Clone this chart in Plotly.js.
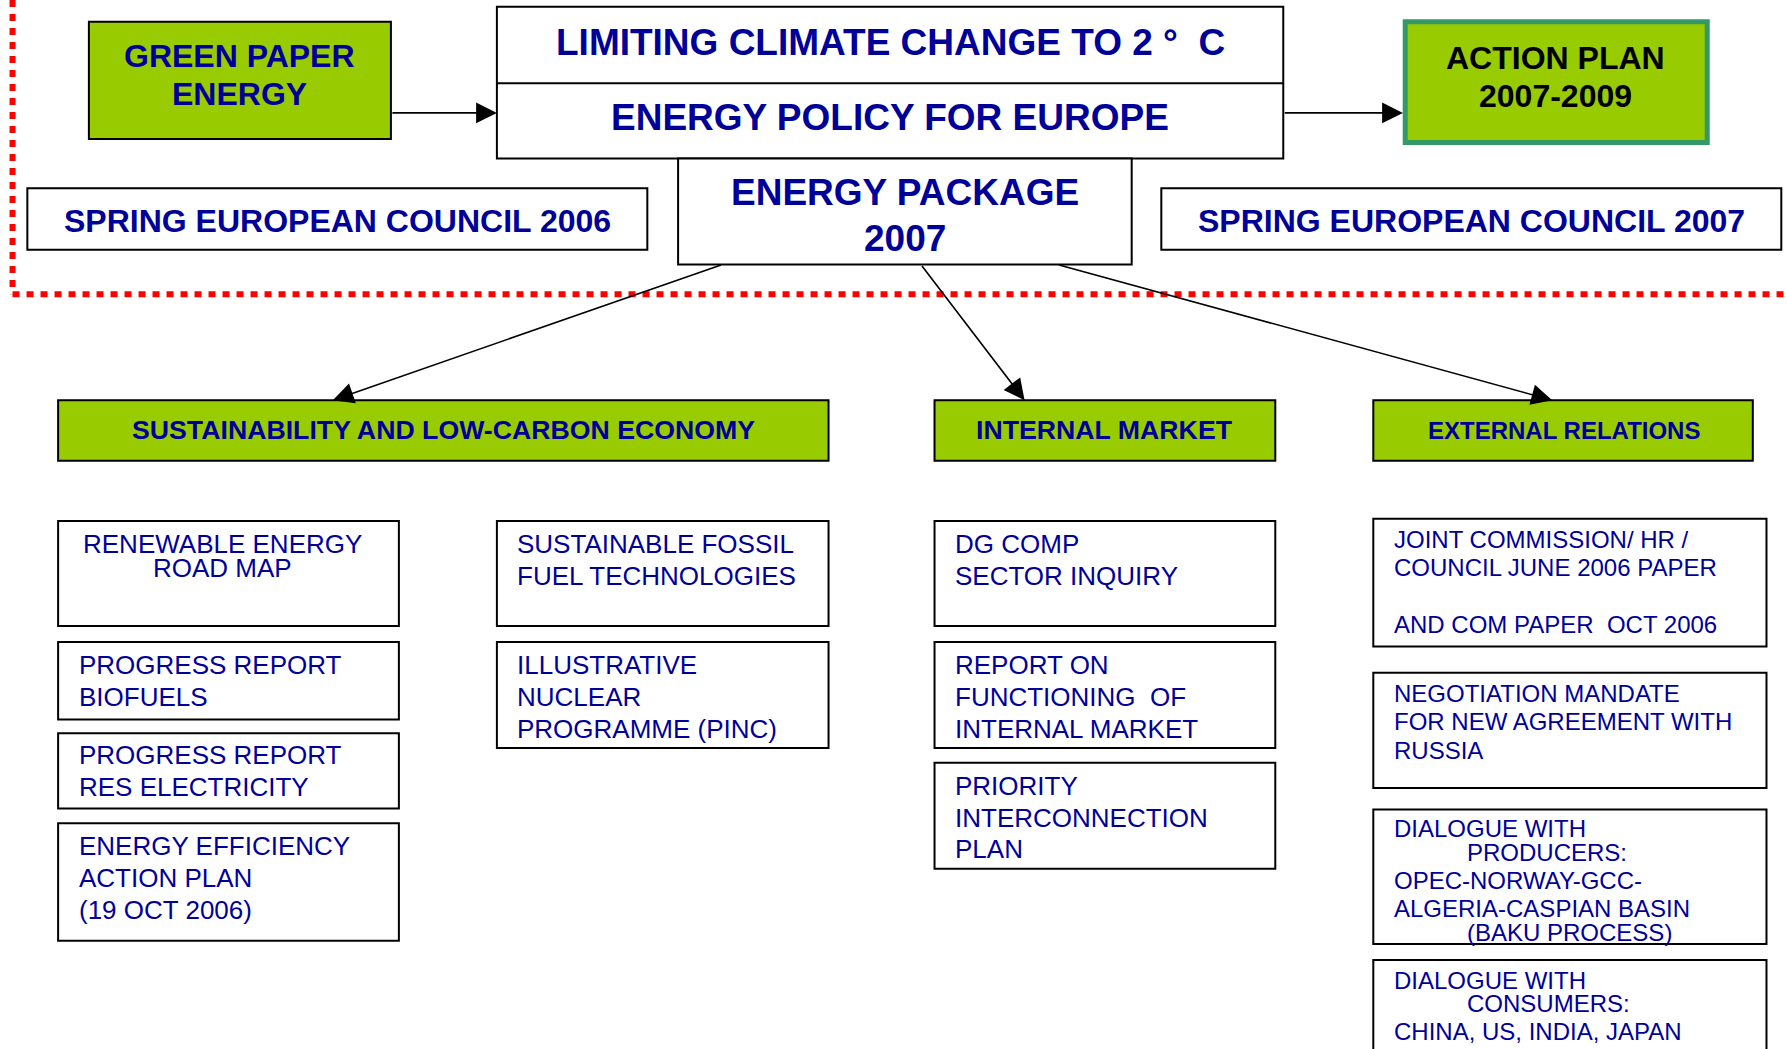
<!DOCTYPE html>
<html><head><meta charset="utf-8">
<script src="https://cdn.plot.ly/plotly-3.0.1.min.js"></script>
<style>html,body{margin:0;padding:0;background:#fff;overflow:hidden}</style>
</head><body><div id="chart" style="width:1787px;height:1049px"></div>
<script>
// ---------- texts (data) ----------
const headerTitle = ["LIMITING CLIMATE CHANGE TO 2 °  C", "ENERGY POLICY FOR EUROPE"];
const greenPaper = ["GREEN PAPER", "ENERGY"];
const actionPlan = ["ACTION PLAN", "2007-2009"];
const energyPackage = ["ENERGY PACKAGE", "2007"];
const councils = ["SPRING EUROPEAN COUNCIL 2006", "SPRING EUROPEAN COUNCIL 2007"];
const pillars = ["SUSTAINABILITY AND LOW-CARBON ECONOMY", "INTERNAL MARKET", "EXTERNAL RELATIONS"];
const sustainabilityItems = [["RENEWABLE ENERGY", "ROAD MAP"], ["PROGRESS REPORT", "BIOFUELS"], ["PROGRESS REPORT", "RES ELECTRICITY"], ["ENERGY EFFICIENCY", "ACTION PLAN", "(19 OCT 2006)"]];
const fossilNuclearItems = [["SUSTAINABLE FOSSIL", "FUEL TECHNOLOGIES"], ["ILLUSTRATIVE", "NUCLEAR", "PROGRAMME (PINC)"]];
const marketItems = [["DG COMP", "SECTOR INQUIRY"], ["REPORT ON", "FUNCTIONING  OF", "INTERNAL MARKET"], ["PRIORITY", "INTERCONNECTION", "PLAN"]];
const externalItems = [["JOINT COMMISSION/ HR /", "COUNCIL JUNE 2006 PAPER", "", "AND COM PAPER  OCT 2006"], ["NEGOTIATION MANDATE", "FOR NEW AGREEMENT WITH", "RUSSIA"], ["DIALOGUE WITH", "PRODUCERS:", "OPEC-NORWAY-GCC-", "ALGERIA-CASPIAN BASIN", "(BAKU PROCESS)"], ["DIALOGUE WITH", "CONSUMERS:", "CHINA, US, INDIA, JAPAN"]];

// ---------- geometry & styles (diagram space 1568 x 920) ----------
const FONT = "Liberation Sans, Arial, Helvetica, sans-serif";
const NAVY = "#000099";
const GREEN = "#99CC00";
const shapes = [];
const annotations = [];

function rect(x0, y0, x1, y1, fill, color, width) {
  shapes.push({type: "rect", xref: "x", yref: "y", x0, y0, x1, y1,
    fillcolor: fill, line: {color: color || "#000", width: width || 2}, layer: "below"});
}
function line(x0, y0, x1, y1, color, width, dash) {
  shapes.push({type: "line", xref: "x", yref: "y", x0, y0, x1, y1,
    line: {color, width, dash: dash || "solid"}});
}
function text(t, x, y, size, opts) {
  opts = opts || {};
  annotations.push({text: t, x, y, xref: "x", yref: "y", showarrow: false,
    xanchor: opts.anchor || "center", yanchor: "middle", borderpad: 0,
    font: {family: FONT, size, color: opts.color || NAVY, weight: opts.bold ? 700 : 400}});
}
function arrow(x0, y0, x1, y1) {
  annotations.push({text: "", x: x1, y: y1, ax: x0, ay: y0, xref: "x", yref: "y",
    axref: "x", ayref: "y", showarrow: true, arrowhead: 2, arrowsize: 2.6,
    arrowwidth: 1.6, arrowcolor: "#000", standoff: 0});
}

// red dotted frame
line(11, 0, 11, 258, "#FF0000", 6, "7px,7px");
line(11, 258, 1568, 258, "#FF0000", 6, "7px,7px");

// top row
rect(78, 19, 343, 122, GREEN, "#000", 2);
text(greenPaper[0], 210, 49, 32, {bold: true});
text(greenPaper[1], 210, 82, 32, {bold: true});

rect(436, 6, 1126, 139, "#fff", "#000", 2);
line(436, 73, 1126, 73, "#000", 2);
text(headerTitle[0], 781, 37, 37, {bold: true});
text(headerTitle[1], 781, 103, 37, {bold: true});

rect(1233, 19, 1498, 125, GREEN, "#339966", 5);
text(actionPlan[0], 1365, 51, 32, {bold: true, color: "#000"});
text(actionPlan[1], 1365, 84, 32, {bold: true, color: "#000"});

rect(24, 165, 568, 219, "#fff", "#000", 2);
text(councils[0], 296, 194, 32, {bold: true});
rect(1019, 165, 1563, 219, "#fff", "#000", 2);
text(councils[1], 1291, 194, 32, {bold: true});

rect(595, 139, 993, 232, "#fff", "#000", 2);
text(energyPackage[0], 794, 169, 37, {bold: true});
text(energyPackage[1], 794, 209, 37, {bold: true});

arrow(343, 99, 436, 99);
arrow(1126, 99, 1231, 99);
arrow(634, 232, 292, 351);
arrow(808, 232, 899, 351);
arrow(928, 232, 1362, 351);

// pillars
const pillarBoxes = [[51, 727, 389, 26.7], [820, 1119, 969, 26.7], [1205, 1538, 1372, 24]];
pillarBoxes.forEach((b, i) => {
  rect(b[0], 351, b[1], 404, GREEN, "#000", 2);
  text(pillars[i], b[2], 377.5, b[3], {bold: true});
});

// item boxes
function items(list, x0, x1, boxes, size) {
  list.forEach((lines, i) => {
    const b = boxes[i];
    rect(x0, b.y0, x1, b.y1, "#fff", "#000", 2);
    lines.forEach((t, j) => {
      if (!t) return;
      const lx = b.xs ? b.xs[j] : b.x;
      text(t, lx, b.ys[j], size, {anchor: b.center ? "center" : "left"});
    });
  });
}
items(sustainabilityItems, 51, 350, [
  {y0: 457, y1: 549, x: 195, center: true, ys: [477, 498]},
  {y0: 563, y1: 631, x: 68, ys: [583, 611]},
  {y0: 643, y1: 709, x: 68, ys: [662, 690]},
  {y0: 722, y1: 825, x: 68, ys: [742, 770, 798]}
], 26);
items(fossilNuclearItems, 436, 727, [
  {y0: 457, y1: 549, x: 453, ys: [477, 505]},
  {y0: 563, y1: 656, x: 453, ys: [583, 611, 639]}
], 26);
items(marketItems, 820, 1119, [
  {y0: 457, y1: 549, x: 837, ys: [477, 505]},
  {y0: 563, y1: 656, x: 837, ys: [583, 611, 639]},
  {y0: 669, y1: 762, x: 837, ys: [689, 717, 745]}
], 26);
items(externalItems, 1205, 1550, [
  {y0: 455, y1: 567, x: 1222, ys: [473, 498, 523, 548]},
  {y0: 590, y1: 691, x: 1222, ys: [608, 633, 658]},
  {y0: 710, y1: 828, xs: [1222, 1286, 1222, 1222, 1286], ys: [727, 748, 772, 797, 818]},
  {y0: 842, y1: 960, xs: [1222, 1286, 1222], ys: [860, 880, 905]}
], 24);

const layout = {
  width: 1787, height: 1049,
  margin: {l: 0, r: 0, t: 0, b: 0, pad: 0},
  paper_bgcolor: "#fff", plot_bgcolor: "#fff",
  xaxis: {range: [0, 1568], visible: false, fixedrange: true},
  yaxis: {range: [920, 0], visible: false, fixedrange: true},
  showlegend: false,
  shapes, annotations
};
Plotly.newPlot("chart", [{x: [], y: [], type: "scatter"}], layout, {staticPlot: true, displayModeBar: false});
</script></body></html>
